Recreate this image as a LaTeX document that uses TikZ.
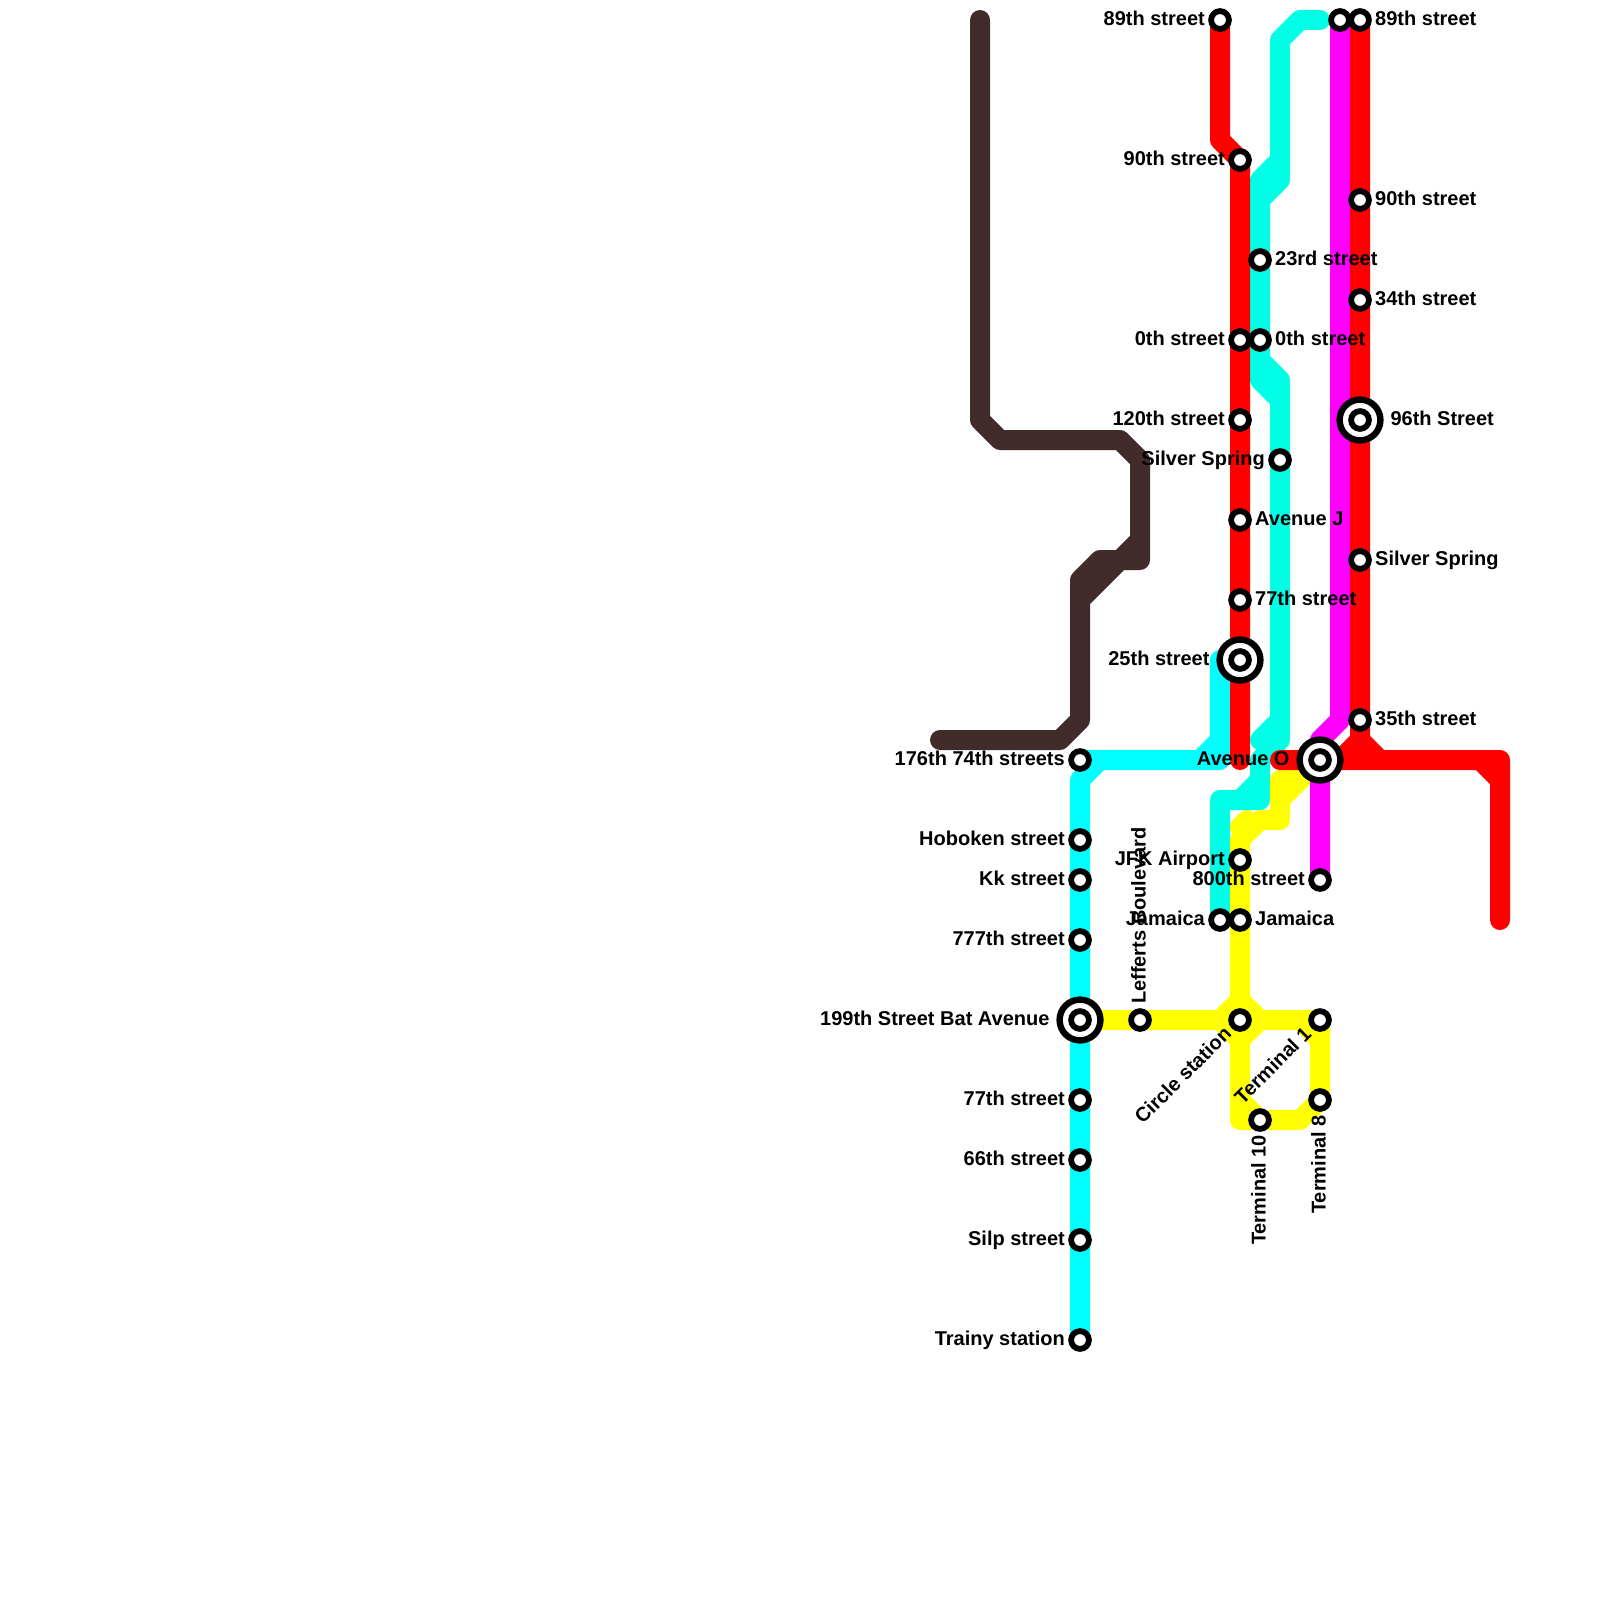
\documentclass[tikz,border=0pt]{standalone}
\usepackage{fontspec}
\setmainfont{Liberation Sans}
\usepackage{xcolor}
\usetikzlibrary{positioning, backgrounds}
\definecolor{lineBrown}{HTML}{422B2B}
\definecolor{lineTeal}{HTML}{00FFE6}
\definecolor{lineCyan}{HTML}{00FFFF}
\definecolor{lineYellow}{HTML}{FFFF00}
\definecolor{lineMagenta}{HTML}{FF00FF}
\definecolor{lineRed}{HTML}{FF0000}

\begin{document}
\begin{tikzpicture}[
    x=1pt, y=-1pt,
    node distance=3.2pt,
    stn/.style={circle, draw=black, line width=5.8pt, fill=white, inner sep=0pt, minimum size=17.8pt},
    hub/.style={circle, draw=black, line width=6.4pt, fill=white, inner sep=0pt, minimum size=40.8pt},
    lbl/.style={inner sep=0pt, text height=15.5pt, text depth=4.5pt, font=\fontsize{20}{22}\selectfont\bfseries},
    hublbl/.style={lbl, node distance=6.7pt},
    metro/.style={line width=20pt, line cap=round, line join=round}
]
\useasboundingbox (0,0) rectangle (1600,1600);

% cyan line
\node[stn] (s176) at (1080,760) {};
\node[stn] (hoboken) at (1080,840) {};
\node[stn] (kk) at (1080,880) {};
\node[stn] (s777) at (1080,940) {};
\node[hub] (bat) at (1080,1020) {};
\node[stn] (batIn) at (bat) {};
\node[stn] (s77) at (1080,1100) {};
\node[stn] (s66) at (1080,1160) {};
\node[stn] (silp) at (1080,1240) {};
\node[stn] (trainy) at (1080,1340) {};
\node[lbl, left=of s176] (s176T) {176th 74th streets};
\node[lbl, left=of hoboken] (hobokenT) {Hoboken street};
\node[lbl, left=of kk] (kkT) {Kk street};
\node[lbl, left=of s777] (s777T) {777th street};
\node[hublbl, left=of bat] (batT) {199th Street Bat Avenue};
\node[lbl, left=of s77] (s77T) {77th street};
\node[lbl, left=of s66] (s66T) {66th street};
\node[lbl, left=of silp] (silpT) {Silp street};
\node[lbl, left=of trainy] (trainyT) {Trainy station};

% left red branch
\node[stn] (r89) at (1220,20) {};
\node[stn] (r90) at (1240,160) {};
\node[stn] (r0) at (1240,340) {};
\node[stn] (r120) at (1240,420) {};
\node[stn] (avJ) at (1240,520) {};
\node[stn] (r77) at (1240,600) {};
\node[hub] (r25) at (1240,660) {};
\node[stn] (r25In) at (r25) {};
\node[lbl, left=of r89] (r89T) {89th street};
\node[lbl, left=of r90] (r90T) {90th street};
\node[lbl, left=of r0] (r0T) {0th street};
\node[lbl, left=of r120] (r120T) {120th street};
\node[lbl, right=of avJ] (avJT) {Avenue J};
\node[lbl, right=of r77] (r77T) {77th street};
\node[hublbl, left=of r25] (r25T) {25th street};

% teal line
\node[stn] (t23) at (1260,260) {};
\node[stn] (t0) at (1260,340) {};
\node[stn] (tSilver) at (1280,460) {};
\node[stn] (tJam) at (1220,920) {};
\node[lbl, right=of t23] (t23T) {23rd street};
\node[lbl, right=of t0] (t0T) {0th street};
\node[lbl, left=of tSilver] (tSilverT) {Silver Spring};
\node[lbl, left=of tJam] (tJamT) {Jamaica};

% right red and magenta
\node[stn] (m89) at (1340,20) {};
\node[stn] (e89) at (1360,20) {};
\node[stn] (e90) at (1360,200) {};
\node[stn] (e34) at (1360,300) {};
\node[hub] (e96) at (1360,420) {};
\node[stn] (e96In) at (e96) {};
\node[stn] (eSilver) at (1360,560) {};
\node[stn] (e35) at (1360,720) {};
\node[hub] (avO) at (1320,760) {};
\node[stn] (avOIn) at (avO) {};
\node[stn] (m800) at (1320,880) {};
\node[lbl, right=of e89] (e89T) {89th street};
\node[lbl, right=of e90] (e90T) {90th street};
\node[lbl, right=of e34] (e34T) {34th street};
\node[hublbl, right=of e96] (e96T) {96th Street};
\node[lbl, right=of eSilver] (eSilverT) {Silver Spring};
\node[lbl, right=of e35] (e35T) {35th street};
\node[hublbl, left=of avO] (avOT) {Avenue O};
\node[lbl, left=of m800] (m800T) {800th street};

% yellow line
\node[stn] (jfk) at (1240,860) {};
\node[stn] (yJam) at (1240,920) {};
\node[stn] (lefferts) at (1140,1020) {};
\node[stn] (circleS) at (1240,1020) {};
\node[stn] (term1) at (1320,1020) {};
\node[stn] (term8) at (1320,1100) {};
\node[stn] (term10) at (1260,1120) {};
\node[lbl, left=of jfk] (jfkT) {JFK Airport};
\node[lbl, right=of yJam] (yJamT) {Jamaica};
\node[lbl, rotate=90, anchor=west] (leffertsT) at ([yshift=16pt]lefferts.center) {Lefferts Boulevard};
\node[lbl, rotate=45, anchor=east] (circleT) at ([xshift=-11.3pt,yshift=-11.3pt]circleS.center) {Circle station};
\node[lbl, rotate=45, anchor=east] (term1T) at ([xshift=-11.3pt,yshift=-11.3pt]term1.center) {Terminal 1};
\node[lbl, rotate=90, anchor=east] (term8T) at ([yshift=-15pt]term8.center) {Terminal 8};
\node[lbl, rotate=90, anchor=east] (term10T) at ([yshift=-15pt]term10.center) {Terminal 10};

\coordinate (brownTop) at (980,20);
\coordinate (brownEnd) at (940,740);
\coordinate (redEnd) at (1500,920);
\coordinate (redStub) at (1240,760);
\coordinate (tealTop) at (1320,20);
\coordinate (cyanTop) at (1220,660);

\begin{pgfonlayer}{background}
\draw[metro, lineCyan] (trainy.center) -- (1080,780) -- (1100,760) -- (1220,760) -- (cyanTop)
    (s176.center) -- (1220,760) (1200,760) -- (1220,740);
\draw[metro, lineTeal] (tealTop) -- (1300,20) -- (1280,40) -- (1280,180) -- (1260,200) -- (t23.center) -- (t0.center) -- (1260,380) -- (1280,400) -- (tSilver.center) -- (1280,740) -- (1260,760) -- (1260,800) -- (1220,800) -- (tJam.center)
    (1280,160) -- (1260,180) -- (1260,200) (1260,360) -- (1280,380) -- (1280,400) (1280,720) -- (1260,740) (1260,780) -- (1240,800);
\draw[metro, lineYellow] (bat.center) -- (lefferts.center) -- (1220,1020) -- (1240,1000) -- (yJam.center) -- (jfk.center) -- (1240,840) -- (1260,820) -- (1280,820) -- (1280,800) -- (avO.center)
    (1240,827) -- (1247,820) (1280,800) -- (1280,780) -- (1300,780)
    (1240,1000) -- (1260,1020) -- (term1.center) -- (term8.center) -- (1300,1120) -- (term10.center) -- (1240,1120) -- (1240,1040) -- (1260,1020)
    (1220,1020) -- (1240,1040) (1300,1020) -- (1320,1040) (1240,1100) -- (term10.center);
\draw[metro, lineMagenta] (m89.center) -- (1340,720) -- (1320,740) -- (m800.center);
\draw[metro, lineRed] (r89.center) -- (1220,140) -- (r90.center) -- (r0.center) -- (r120.center) -- (avJ.center) -- (r77.center) -- (r25.center) -- (redStub);
\draw[metro, lineRed] (e89.center) -- (e90.center) -- (e34.center) -- (e96.center) -- (eSilver.center) -- (e35.center) -- (1360,740) -- (1340,760) -- (1280,760)
    (1360,740) -- (1380,760) -- (1500,760) -- (redEnd) (1340,760) -- (1380,760) (1480,760) -- (1500,780);
\draw[metro, lineBrown] (brownTop) -- (980,420) -- (1000,440) -- (1120,440) -- (1140,460) -- (1140,560) -- (1100,560) -- (1080,580) -- (1080,720) -- (1060,740) -- (brownEnd)
    (1140,540) -- (1120,560) -- (1080,600);
\end{pgfonlayer}
\end{tikzpicture}
\end{document}
